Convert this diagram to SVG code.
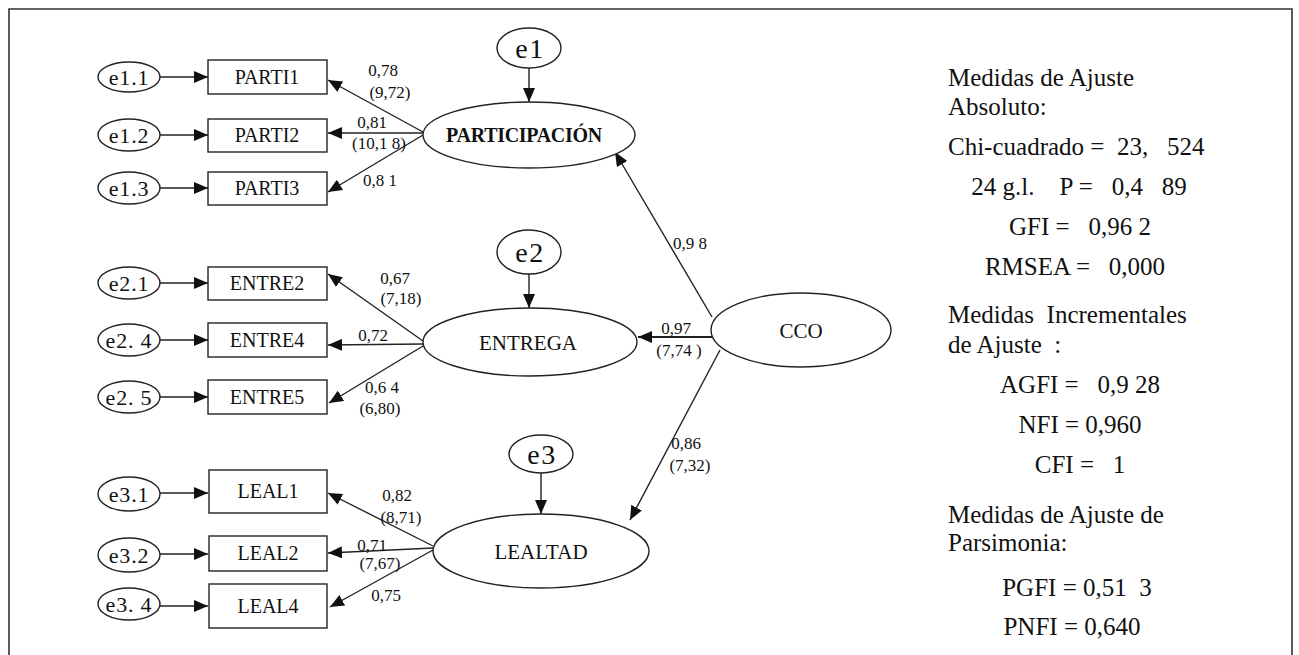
<svg xmlns="http://www.w3.org/2000/svg" width="1299" height="655" viewBox="0 0 1299 655">
<defs>
<marker id="ah" viewBox="0 0 14 12" refX="14" refY="6" markerWidth="14" markerHeight="12" markerUnits="userSpaceOnUse" orient="auto">
<path d="M0,0 L14,6 L0,12 Z" fill="#111"/>
</marker>
</defs>
<style>
.e{fill:#fff;stroke:#222;stroke-width:1.4}
.r{fill:#fff;stroke:#222;stroke-width:1.4}
.c{fill:none;stroke:#222;stroke-width:1.4;marker-end:url(#ah)}
text{font-family:"Liberation Serif","Times New Roman",serif;fill:#111;white-space:pre}
.t{font-size:20px;text-anchor:middle}
.s{font-size:22px;text-anchor:middle;letter-spacing:0.8px}
.big{font-size:28px;text-anchor:middle;letter-spacing:1.5px}
.lv{font-size:21px;text-anchor:middle}
.l{font-size:17px;text-anchor:middle}
.m{font-size:25px}
.mc{font-size:25px;text-anchor:middle}
</style>
<rect width="1299" height="655" fill="#fff"/>
<path d="M9,655 V9 H1292 V655" fill="none" stroke="#333" stroke-width="1.6"/>

<g id="connectors">
<line class="c" x1="160" y1="77" x2="208" y2="77"/>
<line class="c" x1="160" y1="135" x2="208" y2="135"/>
<line class="c" x1="160" y1="188" x2="208" y2="188"/>
<line class="c" x1="160" y1="283" x2="208" y2="283"/>
<line class="c" x1="160" y1="340" x2="208" y2="340"/>
<line class="c" x1="160" y1="397" x2="208" y2="397"/>
<line class="c" x1="160" y1="493" x2="208" y2="493"/>
<line class="c" x1="160" y1="554" x2="208" y2="554"/>
<line class="c" x1="160" y1="606" x2="208" y2="606"/>
<line class="c" x1="423" y1="132" x2="328" y2="80"/>
<line class="c" x1="423" y1="133" x2="328" y2="133"/>
<line class="c" x1="423" y1="135" x2="328" y2="192"/>
<line class="c" x1="423" y1="341" x2="328" y2="274"/>
<line class="c" x1="423" y1="344" x2="328" y2="345"/>
<line class="c" x1="423" y1="346" x2="329" y2="403"/>
<line class="c" x1="433" y1="546" x2="328" y2="493"/>
<line class="c" x1="433" y1="548" x2="328" y2="553"/>
<line class="c" x1="433" y1="550" x2="330" y2="607"/>
<line class="c" x1="529" y1="68" x2="529" y2="102"/>
<line class="c" x1="529" y1="274" x2="529" y2="308"/>
<line class="c" x1="541" y1="473" x2="541" y2="514"/>
<line class="c" x1="712" y1="317" x2="615" y2="152"/>
<line class="c" x1="712" y1="337" x2="638" y2="337" style="stroke-width:2.2"/>
<line class="c" x1="720" y1="350" x2="630" y2="520"/>
</g>

<g id="e1.1"><ellipse class="e" cx="129" cy="77" rx="31" ry="15"/><text class="s" x="129" y="85">e1.1</text></g>
<g id="e1.2"><ellipse class="e" cx="129" cy="135" rx="31" ry="16"/><text class="s" x="129" y="143">e1.2</text></g>
<g id="e1.3"><ellipse class="e" cx="129" cy="188" rx="31" ry="16"/><text class="s" x="129" y="196">e1.3</text></g>
<g id="e2.1"><ellipse class="e" cx="129" cy="283" rx="31" ry="16"/><text class="s" x="129" y="291">e2.1</text></g>
<g id="e2.4"><ellipse class="e" cx="129" cy="340" rx="31" ry="16"/><text class="s" x="129" y="348">e2. 4</text></g>
<g id="e2.5"><ellipse class="e" cx="129" cy="397" rx="31" ry="16"/><text class="s" x="129" y="405">e2. 5</text></g>
<g id="e3.1"><ellipse class="e" cx="129" cy="494" rx="31" ry="17"/><text class="s" x="129" y="502">e3.1</text></g>
<g id="e3.2"><ellipse class="e" cx="129" cy="555" rx="31" ry="17"/><text class="s" x="129" y="563">e3.2</text></g>
<g id="e3.4"><ellipse class="e" cx="129" cy="604" rx="31" ry="16"/><text class="s" x="129" y="612">e3. 4</text></g>

<g id="PARTI1"><rect class="r" x="208" y="60" width="119" height="34"/><text class="t" x="267" y="84">PARTI1</text></g>
<g id="PARTI2"><rect class="r" x="208" y="119" width="119" height="33"/><text class="t" x="267" y="142">PARTI2</text></g>
<g id="PARTI3"><rect class="r" x="208" y="172" width="119" height="33"/><text class="t" x="267" y="195">PARTI3</text></g>
<g id="ENTRE2"><rect class="r" x="208" y="267" width="119" height="33"/><text class="t" x="267" y="290">ENTRE2</text></g>
<g id="ENTRE4"><rect class="r" x="208" y="323" width="119" height="34"/><text class="t" x="267" y="347">ENTRE4</text></g>
<g id="ENTRE5"><rect class="r" x="208" y="380" width="119" height="34"/><text class="t" x="267" y="404">ENTRE5</text></g>
<g id="LEAL1"><rect class="r" x="209" y="470" width="118" height="43"/><text class="t" x="268" y="498">LEAL1</text></g>
<g id="LEAL2"><rect class="r" x="209" y="536" width="118" height="35"/><text class="t" x="268" y="560">LEAL2</text></g>
<g id="LEAL4"><rect class="r" x="209" y="584" width="118" height="44"/><text class="t" x="268" y="613">LEAL4</text></g>

<g id="e1"><ellipse class="e" cx="529" cy="48" rx="32" ry="20"/><text class="big" x="530" y="58">e1</text></g>
<g id="e2"><ellipse class="e" cx="529" cy="252" rx="32" ry="22"/><text class="big" x="530" y="262">e2</text></g>
<g id="e3"><ellipse class="e" cx="541" cy="454" rx="32" ry="19"/><text class="big" x="542" y="464">e3</text></g>

<g id="PARTICIPACION"><ellipse class="e" cx="529" cy="135" rx="106" ry="33"/><text x="524" y="142" style="font-size:20px;font-weight:bold;text-anchor:middle;letter-spacing:-0.3px">PARTICIPACIÓN</text></g>
<g id="ENTREGA"><ellipse class="e" cx="530" cy="342" rx="107" ry="34"/><text class="lv" x="528" y="350">ENTREGA</text></g>
<g id="LEALTAD"><ellipse class="e" cx="541" cy="551" rx="108" ry="37"/><text class="lv" x="541" y="559">LEALTAD</text></g>
<g id="CCO"><ellipse class="e" cx="801" cy="330" rx="90" ry="37"/><text class="lv" x="801" y="338">CCO</text></g>

<g id="labels">
<text class="l" x="383" y="76">0,78</text>
<text class="l" x="390" y="98">(9,72)</text>
<text class="l" x="372" y="128">0,81</text>
<text class="l" x="379" y="149">(10,1 8)</text>
<text class="l" x="380" y="186">0,8 1</text>
<text class="l" x="395" y="284">0,67</text>
<text class="l" x="401" y="304">(7,18)</text>
<text class="l" x="373" y="341">0,72</text>
<text class="l" x="382" y="393">0,6 4</text>
<text class="l" x="380" y="414">(6,80)</text>
<text class="l" x="676" y="334">0,97</text>
<text class="l" x="679" y="356">(7,74 )</text>
<text class="l" x="690" y="249">0,9 8</text>
<text class="l" x="686" y="449">0,86</text>
<text class="l" x="690" y="471">(7,32)</text>
<text class="l" x="397" y="501">0,82</text>
<text class="l" x="401" y="523">(8,71)</text>
<text class="l" x="372" y="551">0,71</text>
<text class="l" x="380" y="569">(7,67)</text>
<text class="l" x="386" y="601">0,75</text>
</g>

<g id="fit">
<text class="m" x="948" y="86">Medidas de Ajuste</text>
<text class="m" x="948" y="115">Absoluto:</text>
<text class="m" x="948" y="155">Chi-cuadrado =  23,   524</text>
<text class="mc" x="1079" y="195">24 g.l.    P =   0,4   89</text>
<text class="mc" x="1080" y="235">GFI =   0,96 2</text>
<text class="mc" x="1075" y="275">RMSEA =   0,000</text>
<text class="m" x="948" y="323">Medidas  Incrementales</text>
<text class="m" x="948" y="353">de Ajuste  :</text>
<text class="mc" x="1080" y="393">AGFI =   0,9 28</text>
<text class="mc" x="1080" y="433">NFI = 0,960</text>
<text class="mc" x="1080" y="473">CFI =   1</text>
<text class="m" x="948" y="523">Medidas de Ajuste de</text>
<text class="m" x="948" y="551">Parsimonia:</text>
<text class="mc" x="1077" y="596">PGFI = 0,51  3</text>
<text class="mc" x="1072" y="635">PNFI = 0,640</text>
</g>
</svg>
